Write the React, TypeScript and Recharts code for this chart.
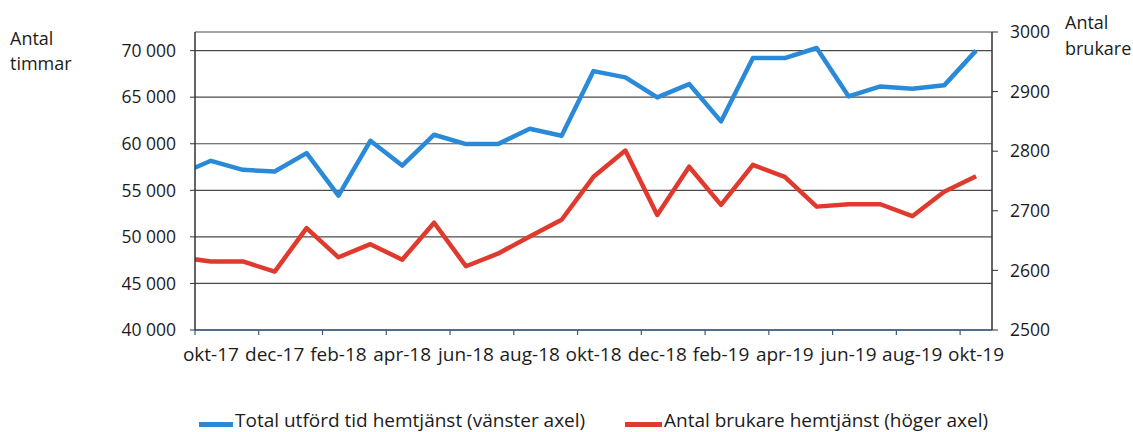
import React from 'react';
import { LineChart, Line, XAxis, YAxis, CartesianGrid, Legend, Customized } from 'recharts';

// Months (sep-17 is only partly visible, clipped at the left axis)
const months = ['sep-17','okt-17','nov-17','dec-17','jan-18','feb-18','mar-18','apr-18','maj-18','jun-18','jul-18','aug-18','sep-18','okt-18','nov-18','dec-18','jan-19','feb-19','mar-19','apr-19','maj-19','jun-19','jul-19','aug-19','sep-19','okt-19'];
// Total utförd tid hemtjänst (vänster axel), hours
const hours = [56700, 58170, 57200, 57020, 58990, 54440, 60320, 57660, 60970, 59960, 59960, 61610, 60860, 67800, 67130, 64980, 66410, 62400, 69200, 69200, 70280, 65090, 66160, 65910, 66270, 70000];
// Antal brukare hemtjänst (höger axel)
const users = [2622, 2615, 2615, 2598, 2671, 2622, 2644, 2618, 2680, 2607, 2628, 2657, 2685, 2757, 2801, 2693, 2774, 2710, 2777, 2757, 2707, 2711, 2711, 2691, 2732, 2758];

const xTicks = [1, 3, 5, 7, 9, 11, 13, 15, 17, 19, 21, 23, 25];
const leftTicks = [40000, 45000, 50000, 55000, 60000, 65000, 70000];
const rightTicks = [2500, 2600, 2700, 2800, 2900, 3000];

const seriesNames = ['Total utförd tid hemtjänst (vänster axel)', 'Antal brukare hemtjänst (höger axel)'];

const data = months.map((m, i) => ({ idx: i, month: m, hours: hours[i], users: users[i] }));

const W = 1133;
const H = 432;
const LEFT_W = 195;
const RIGHT_W = 141;
const N_CAT = 25;
const HALF = (W - LEFT_W - RIGHT_W) / N_CAT / 2;

const BLUE = '#2a8ad8';
const RED = '#e03a2e';
const FONT = "'Open Sans', sans-serif";
const TXT = '#1c1c1c';

const fmtLeft = (v: number) => {
  const s = String(v);
  return s.slice(0, s.length - 3) + ' ' + s.slice(s.length - 3);
};

const XTick = (props: any) => {
  const { x, y, payload } = props;
  return (
    <g>
      <line x1={x - HALF} x2={x - HALF} y1={y} y2={y + 5} stroke="#3b5b7b" strokeWidth={1.2} />
      <text x={x} y={y + 18} dy="0.71em" textAnchor="middle" fontSize={19} fill={TXT} fontFamily={FONT}>
        {months[payload.value]}
      </text>
    </g>
  );
};

const AxisTitles = () => (
  <g fontFamily={FONT} fontSize={18} fill={TXT}>
    <text x={10} y={45}>Antal</text>
    <text x={10} y={70}>timmar</text>
    <text x={1065} y={29}>Antal</text>
    <text x={1065} y={55}>brukare</text>
  </g>
);

const LegendContent = () => (
  <div style={{ position: 'relative', width: W, height: 32, fontFamily: FONT, fontSize: 19, color: TXT }}>
    <div style={{ position: 'absolute', left: 199, top: 7, display: 'flex', alignItems: 'center', whiteSpace: 'nowrap' }}>
      <span style={{ display: 'inline-block', width: 34, height: 5, background: BLUE, marginRight: 2, marginTop: 8 }} />
      <span>{seriesNames[0]}</span>
    </div>
    <div style={{ position: 'absolute', left: 625, top: 7, display: 'flex', alignItems: 'center', whiteSpace: 'nowrap' }}>
      <span style={{ display: 'inline-block', width: 37, height: 5, background: RED, marginRight: 2, marginTop: 8 }} />
      <span>{seriesNames[1]}</span>
    </div>
  </div>
);

export default function App() {
  return (
    <div style={{ position: 'absolute', left: 0, top: 0, background: '#fff' }}>
      <LineChart width={W} height={H} data={data} margin={{ top: 32, right: 0, bottom: 0, left: 0 }} style={{ fontFamily: FONT }}>
        <CartesianGrid yAxisId="left" vertical={false} stroke="#4a4a4a" strokeWidth={1.2} />
        <XAxis
          dataKey="idx"
          type="number"
          domain={[0.5, 25.5]}
          allowDataOverflow
          ticks={xTicks}
          interval={0}
          tick={<XTick />}
          tickLine={false}
          tickSize={0}
          tickMargin={0}
          height={70}
          axisLine={{ stroke: '#3b5b7b', strokeWidth: 1.5 }}
        />
        <YAxis
          yAxisId="left"
          width={LEFT_W}
          domain={[40000, 72000]}
          ticks={leftTicks}
          interval={0}
          tickFormatter={fmtLeft}
          tick={{ fontSize: 17.5, fill: TXT, fontFamily: FONT }}
          tickSize={5}
          tickMargin={14}
          axisLine={{ stroke: '#333', strokeWidth: 1.5 }}
          tickLine={{ stroke: '#333' }}
          allowDataOverflow
        />
        <YAxis
          yAxisId="right"
          orientation="right"
          width={RIGHT_W}
          domain={[2500, 3000]}
          ticks={rightTicks}
          interval={0}
          tick={{ fontSize: 17.5, fill: TXT, fontFamily: FONT, textAnchor: 'start' }}
          tickSize={6}
          tickMargin={12}
          axisLine={{ stroke: '#333', strokeWidth: 1.5 }}
          tickLine={{ stroke: '#333' }}
          allowDataOverflow
        />
        <Line yAxisId="left" type="linear" dataKey="hours" name={seriesNames[0]} stroke={BLUE} strokeWidth={4.5} dot={false} strokeLinejoin="round" isAnimationActive={false} />
        <Line yAxisId="right" type="linear" dataKey="users" name={seriesNames[1]} stroke={RED} strokeWidth={4.5} dot={false} strokeLinejoin="round" isAnimationActive={false} />
        <Legend verticalAlign="bottom" content={<LegendContent />} wrapperStyle={{ left: 0, width: W, height: 32 }} />
        <Customized component={AxisTitles} />
      </LineChart>
    </div>
  );
}
